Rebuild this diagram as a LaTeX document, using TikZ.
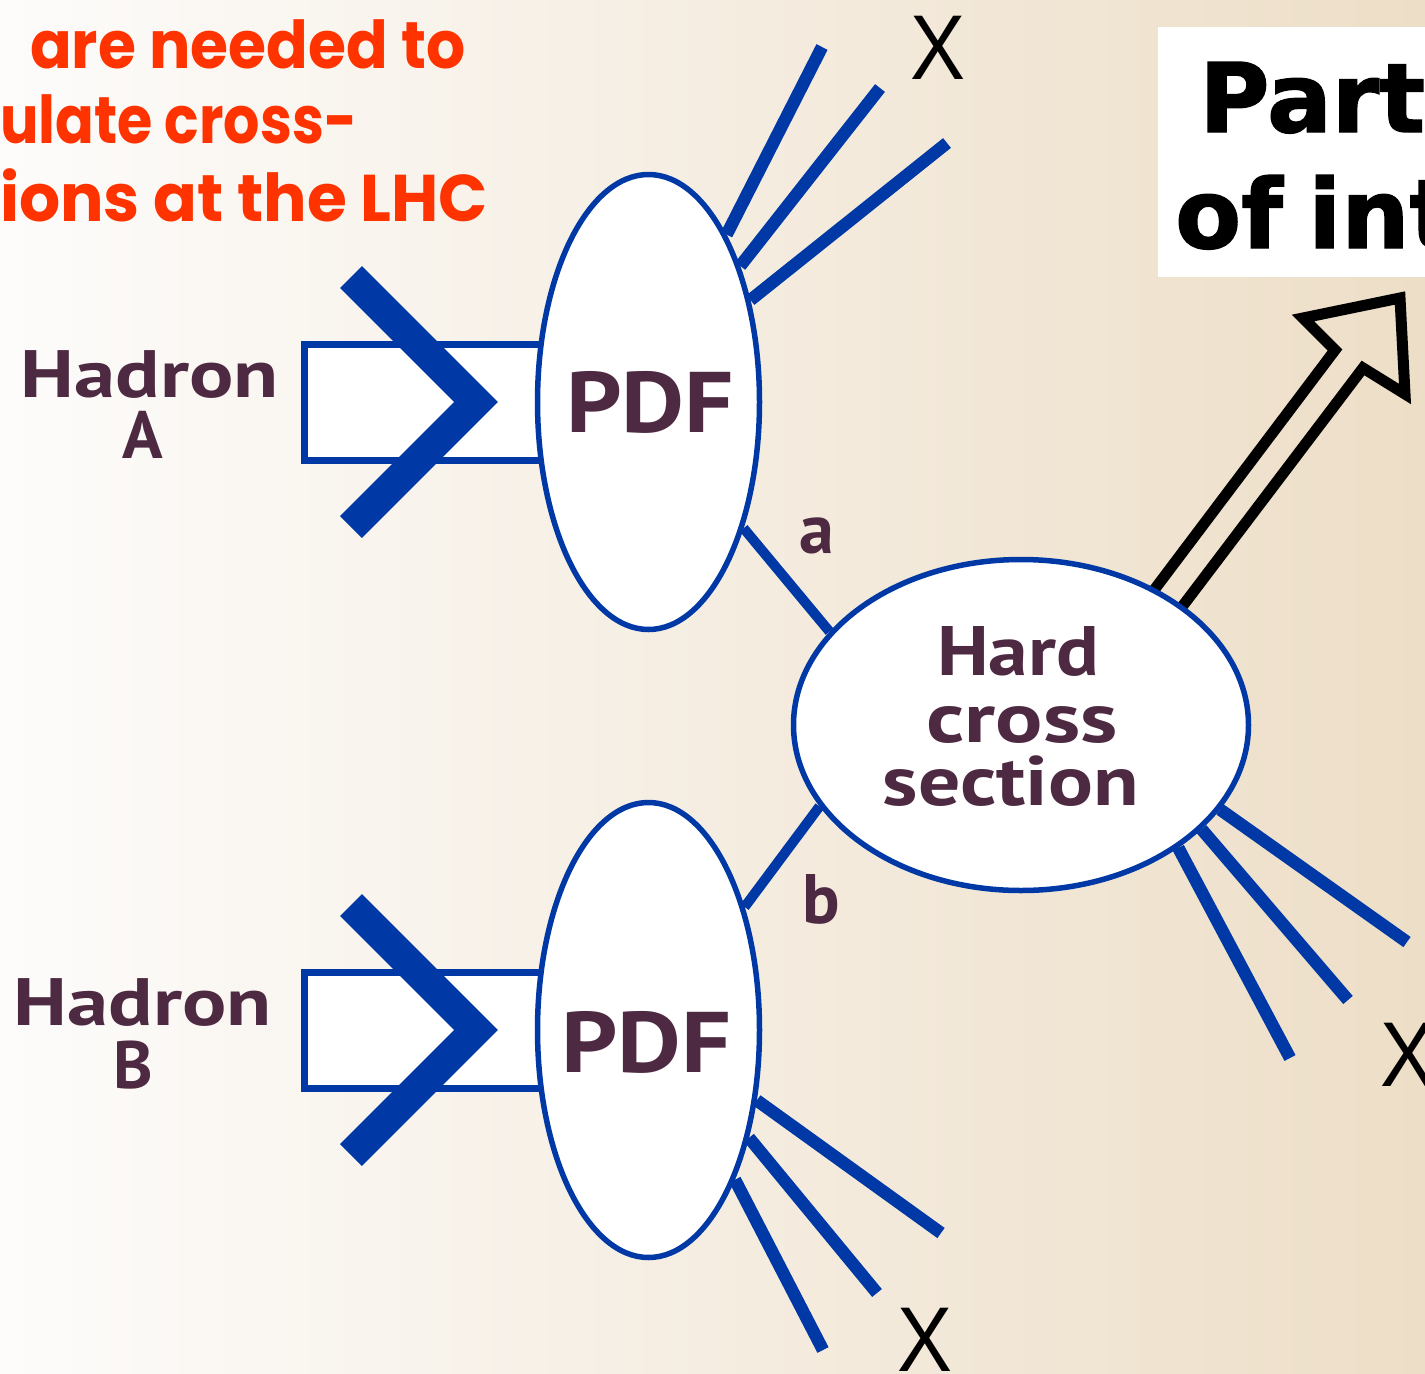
\documentclass[tikz,border=0pt]{standalone}
\usepackage{fontspec}
\usepackage{graphicx}
\usetikzlibrary{shapes.geometric}
\newfontfamily\lblfont{PT Sans}
\newfontfamily\orfont{Poppins}
\newfontfamily\blkfont{DejaVu Sans}[BoldFeatures={FakeBold=1.5}]
\newfontfamily\xfont{Liberation Sans}
\newcommand{\fitw}[2]{\resizebox{#1}{\height}{#2}}
\definecolor{bgL}{RGB}{253,252,251}
\definecolor{bgR}{RGB}{237,222,199}
\definecolor{pblue}{RGB}{0,56,166}
\definecolor{plum}{RGB}{78,42,66}
\definecolor{orng}{RGB}{255,51,0}
\tikzset{
  pdfel/.style={ellipse, draw=pblue, line width=5.5pt, fill=white, minimum width=222pt, minimum height=455pt, inner sep=0pt},
  hardel/.style={ellipse, draw=pblue, line width=5.5pt, fill=white, minimum width=455pt, minimum height=331pt, inner sep=0pt},
  jet/.style={draw=pblue, line width=12.5pt, line cap=butt},
  link/.style={draw=pblue, line width=10pt, line cap=butt},
  inbox/.style={draw=pblue, line width=7pt, fill=white},
  chev/.style={draw=pblue, line width=31pt, line cap=butt, line join=miter},
  lbl/.style={text=plum, inner sep=0pt, anchor=base, font={\lblfont\bfseries\fontsize{67pt}{67pt}\selectfont}},
  pdflbl/.style={lbl, font={\lblfont\bfseries\fontsize{86pt}{86pt}\selectfont}},
  hardlbl/.style={lbl, font={\lblfont\bfseries\fontsize{70pt}{70pt}\selectfont}},
  smalllbl/.style={lbl, font={\lblfont\bfseries\fontsize{70pt}{70pt}\selectfont}},
  xlbl/.style={text=black, inner sep=0pt, font={\xfont\fontsize{92pt}{92pt}\selectfont}},
  orlbl/.style={text=orng, inner sep=0pt, anchor=base west, font={\orfont\bfseries\fontsize{66pt}{66pt}\selectfont}},
  blklbl/.style={text=black, inner sep=0pt, anchor=base west, font={\blkfont\bfseries\fontsize{96pt}{96pt}\selectfont}},
  hollow/.style={draw=black, line width=11pt, line join=miter, line cap=butt}
}
\begin{document}
\begin{tikzpicture}[x=1pt, y=-1pt]
\useasboundingbox (0,0) rectangle (1425,1374);
\begin{scope}
\clip (0,0) rectangle (1425,1374);
% background
\shade[left color=bgL, right color=bgR] (0,0) rectangle (1425,1374);

% orange text
\node[orlbl] (or1) at (30,68) {\fitw{435pt}{are needed to}};
\node[orlbl] (or2) at (0,143) {\fitw{357pt}{ulate cross-}};
\node[orlbl] (or3) at (0,221) {\fitw{488pt}{ions at the LHC}};

% white title box
\fill[white] (1158,27) rectangle (1440,277);
\node[blklbl] (t1) at (1199,132) {Part};
\node[blklbl] (t2) at (1175,248) {of\hspace{-8pt} int};

% incoming hadrons
\draw[inbox] (304,344) rectangle (600,460);
\draw[chev] (351,277) -- (476,402) -- (351,527);
\draw[inbox] (304,972) rectangle (600,1088);
\draw[chev] (351,905) -- (476,1030) -- (351,1155);

% hollow arrow (drawn under hard ellipse)
\draw[hollow] (1142,606) -- (1335,350) -- (1303,318) -- (1400,298) -- (1405,394) -- (1363,368) -- (1169,624);

% ellipses
\node[pdfel] (pdfA) at (648.5,402) {};
\node[pdfel] (pdfB) at (648.5,1030) {};
\node[hardel] (hard) at (1021,725) {};

% links
\draw[link] (pdfA.-53.6) -- (hard.154.9);
\draw[link] (pdfB.52.8) -- (hard.202.2);

% jets
\coordinate (jA1) at (822,47);
\coordinate (jA2) at (880,88);
\coordinate (jA3) at (947,143);
\coordinate (jB1) at (941,1233);
\coordinate (jB2) at (877,1293);
\coordinate (jB3) at (823,1350);
\coordinate (jH1) at (1407,942);
\coordinate (jH2) at (1348,1000);
\coordinate (jH3) at (1290,1058);
\draw[jet] (pdfA.65.2) -- (jA1);
\draw[jet] (pdfA.56.4) -- (jA2);
\draw[jet] (pdfA.45.1) -- (jA3);
\draw[jet] (pdfB.-33.3) -- (jB1);
\draw[jet] (pdfB.-47.9) -- (jB2);
\draw[jet] (pdfB.-60.8) -- (jB3);
\draw[jet] (hard.-23.5) -- (jH1);
\draw[jet] (hard.-30.4) -- (jH2);
\draw[jet] (hard.-38.5) -- (jH3);

% X labels
\node[xlbl] (xA) at (938,48) {\fitw{55pt}{X}};
\node[xlbl] (xB) at (925,1340) {\fitw{55pt}{X}};
\node[xlbl] (xH) at (1408,1055) {\fitw{55pt}{X}};

% labels
\node[lbl] (hA1) at (150,397) {\fitw{258pt}{Hadron}};
\node[lbl] (hA2) at (143,458) {A};
\node[lbl] (hB1) at (143,1025) {\fitw{258pt}{Hadron}};
\node[lbl] (hB2) at (133,1088) {B};
\node[pdflbl] (pA) at (650,432) {\fitw{168pt}{PDF}};
\node[pdflbl] (pB) at (646,1072) {\fitw{170pt}{PDF}};
\node[hardlbl] (h1) at (1018,675) {\fitw{162pt}{Hard}};
\node[hardlbl] (h2) at (1022,742) {\fitw{191pt}{cross}};
\node[hardlbl] (h3) at (1011,805) {\fitw{256pt}{section}};
\node[smalllbl] (la) at (817,553) {a};
\node[smalllbl] (lb) at (821,923) {b};
\end{scope}
\end{tikzpicture}
\end{document}
